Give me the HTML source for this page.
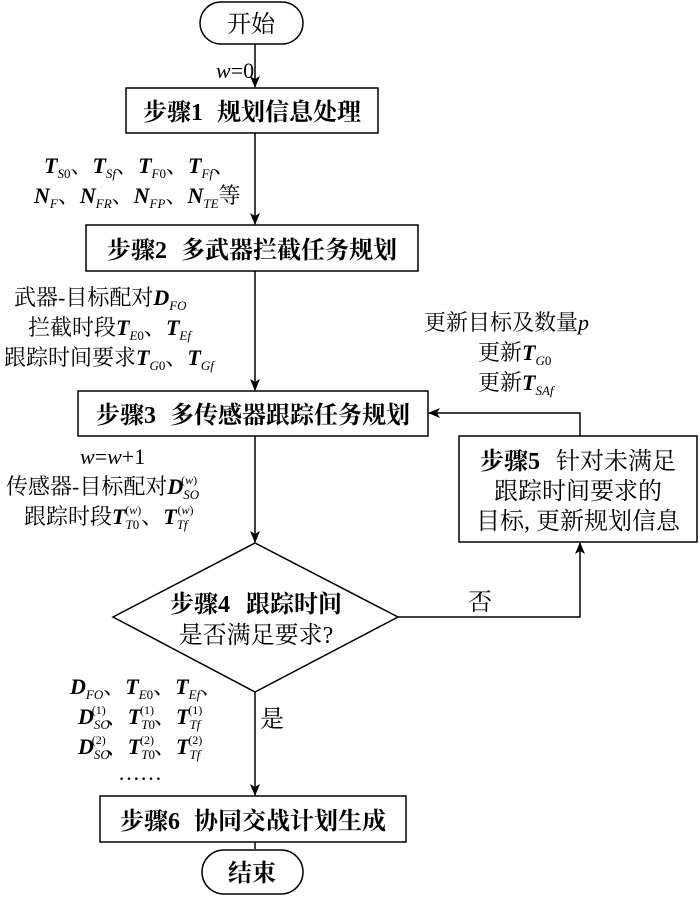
<!DOCTYPE html>
<html><head><meta charset="utf-8"><style>
html,body{margin:0;padding:0;background:#fff;}
svg{display:block;}
text{font-family:"Liberation Serif","Noto Serif CJK SC",serif;fill:#000;}
.b{font-weight:bold;}
.t{font-size:24px;}
.l{font-size:22px;}
.i{font-style:italic;font-weight:bold;}
.s{font-size:13px;font-style:italic;}
</style></head><body>
<svg width="700" height="924" viewBox="0 0 700 924" xmlns="http://www.w3.org/2000/svg">
<defs><marker id="a" markerWidth="12" markerHeight="10" refX="11" refY="5" orient="auto" markerUnits="userSpaceOnUse"><path d="M0,0 L12,5 L0,10 L3,5 Z" fill="#000"/></marker></defs>
<g stroke="#000" stroke-width="1.5" fill="none">
<rect x="200" y="2" width="103" height="42" rx="21"/>
<rect x="126" y="88" width="252" height="45"/>
<rect x="86" y="225" width="332" height="46"/>
<rect x="78" y="391" width="350" height="45"/>
<polygon points="113,617 255,543 398,617 255,692"/>
<rect x="459" y="436" width="238" height="106"/>
<rect x="100" y="796" width="306" height="46"/>
<rect x="202" y="850" width="101" height="44" rx="22"/>
<line x1="255" y1="44" x2="255" y2="87" marker-end="url(#a)"/>
<line x1="255" y1="133" x2="255" y2="224" marker-end="url(#a)"/>
<line x1="255" y1="271" x2="255" y2="390" marker-end="url(#a)"/>
<line x1="255" y1="436" x2="255" y2="542" marker-end="url(#a)"/>
<line x1="255" y1="692" x2="255" y2="795" marker-end="url(#a)"/>
<line x1="255" y1="842" x2="255" y2="849" />
<polyline points="398,617 580,617 580,543" marker-end="url(#a)"/>
<polyline points="580,436 580,413 429,413" marker-end="url(#a)"/>
</g>
<text x="251" y="32" class="t" text-anchor="middle">开始</text>
<text x="252" y="881" class="t b" text-anchor="middle">结束</text>
<text x="216" y="78" class="l"><tspan font-style="italic">w</tspan>=0</text>
<text x="252" y="120" class="t b" text-anchor="middle">步骤1<tspan dx="14">规划信息处理</tspan></text>
<text x="252" y="258" class="t b" text-anchor="middle">步骤2<tspan dx="14">多武器拦截任务规划</tspan></text>
<text x="253" y="423" class="t b" text-anchor="middle">步骤3<tspan dx="14">多传感器跟踪任务规划</tspan></text>
<text x="256" y="612" class="t b" text-anchor="middle">步骤4<tspan dx="16">跟踪时间</tspan></text>
<text x="256" y="643" class="t" text-anchor="middle">是否满足要求?</text>
<text x="253" y="829" class="t b" text-anchor="middle">步骤6<tspan dx="14">协同交战计划生成</tspan></text>
<text x="578" y="469" class="t" text-anchor="middle"><tspan class="b">步骤5</tspan><tspan dx="16">针对未满足</tspan></text>
<text x="578" y="499" class="t" text-anchor="middle">跟踪时间要求的</text>
<text x="578" y="529" class="t" text-anchor="middle">目标, 更新规划信息</text>
<text x="468" y="610" class="t">否</text>
<text x="260" y="727" class="t">是</text>
<text x="44" y="173" class="l"><tspan class="i">T</tspan><tspan class="s" dy="5">S</tspan><tspan font-size="13" dy="0">0</tspan><tspan dy="-5">、</tspan><tspan class="i">T</tspan><tspan class="s" dy="5">Sf</tspan><tspan dy="-5">、</tspan><tspan class="i">T</tspan><tspan class="s" dy="5">F</tspan><tspan font-size="13">0</tspan><tspan dy="-5">、</tspan><tspan class="i">T</tspan><tspan class="s" dy="5">Ff</tspan><tspan dy="-5">、</tspan></text>
<text x="34" y="203" class="l"><tspan class="i">N</tspan><tspan class="s" dy="5">F</tspan><tspan dy="-5">、</tspan><tspan class="i">N</tspan><tspan class="s" dy="5">FR</tspan><tspan dy="-5">、</tspan><tspan class="i">N</tspan><tspan class="s" dy="5">FP</tspan><tspan dy="-5">、</tspan><tspan class="i">N</tspan><tspan class="s" dy="5">TE</tspan><tspan dy="-5">等</tspan></text>
<text x="14" y="305" class="l">武器-目标配对<tspan class="i">D</tspan><tspan class="s" dy="5">FO</tspan></text>
<text x="28" y="335" class="l">拦截时段<tspan class="i">T</tspan><tspan class="s" dy="5">E</tspan><tspan font-size="13">0</tspan><tspan dy="-5">、</tspan><tspan class="i">T</tspan><tspan class="s" dy="5">Ef</tspan></text>
<text x="4" y="365" class="l">跟踪时间要求<tspan class="i">T</tspan><tspan class="s" dy="5">G</tspan><tspan font-size="13">0</tspan><tspan dy="-5">、</tspan><tspan class="i">T</tspan><tspan class="s" dy="5">Gf</tspan></text>
<text x="80" y="464" class="l"><tspan font-style="italic">w</tspan>=<tspan font-style="italic">w</tspan>+1</text>
<text x="6" y="494" class="l">传感器-目标配对<tspan class="i">D</tspan><tspan class="s" dy="5">SO</tspan><tspan font-size="12" dx="-18" dy="-15">(<tspan font-style="italic">w</tspan>)</tspan></text>
<text x="24" y="524" class="l">跟踪时段<tspan class="i">T</tspan><tspan class="s" dy="5">T</tspan><tspan font-size="13">0</tspan><tspan font-size="12" dx="-14" dy="-15">(<tspan font-style="italic">w</tspan>)</tspan><tspan dy="10">、</tspan><tspan class="i">T</tspan><tspan class="s" dy="5">Tf</tspan><tspan font-size="12" dx="-10" dy="-15">(<tspan font-style="italic">w</tspan>)</tspan></text>
<text x="70" y="694" class="l"><tspan class="i">D</tspan><tspan class="s" dy="5">FO</tspan><tspan dy="-5">、</tspan><tspan class="i">T</tspan><tspan class="s" dy="5">E</tspan><tspan font-size="13">0</tspan><tspan dy="-5">、</tspan><tspan class="i">T</tspan><tspan class="s" dy="5">Ef</tspan><tspan dy="-5">、</tspan></text>
<text x="78" y="724" class="l"><tspan class="i">D</tspan><tspan class="s" dy="5">SO</tspan><tspan font-size="12" dx="-18" dy="-15">(1)</tspan><tspan dy="10">、</tspan><tspan class="i">T</tspan><tspan class="s" dy="5">T</tspan><tspan font-size="13">0</tspan><tspan font-size="12" dx="-15" dy="-15">(1)</tspan><tspan dy="10">、</tspan><tspan class="i">T</tspan><tspan class="s" dy="5">Tf</tspan><tspan font-size="12" dx="-12" dy="-15">(1)</tspan></text>
<text x="78" y="754" class="l"><tspan class="i">D</tspan><tspan class="s" dy="5">SO</tspan><tspan font-size="12" dx="-18" dy="-15">(2)</tspan><tspan dy="10">、</tspan><tspan class="i">T</tspan><tspan class="s" dy="5">T</tspan><tspan font-size="13">0</tspan><tspan font-size="12" dx="-15" dy="-15">(2)</tspan><tspan dy="10">、</tspan><tspan class="i">T</tspan><tspan class="s" dy="5">Tf</tspan><tspan font-size="12" dx="-12" dy="-15">(2)</tspan></text>
<text x="118" y="780" class="l">……</text>
<text x="424" y="330" class="l">更新目标及数量<tspan font-style="italic">p</tspan></text>
<text x="478" y="360" class="l">更新<tspan class="i">T</tspan><tspan class="s" dy="5">G</tspan><tspan font-size="13">0</tspan></text>
<text x="478" y="390" class="l">更新<tspan class="i">T</tspan><tspan class="s" dy="5">SAf</tspan></text>
</svg>
</body></html>
